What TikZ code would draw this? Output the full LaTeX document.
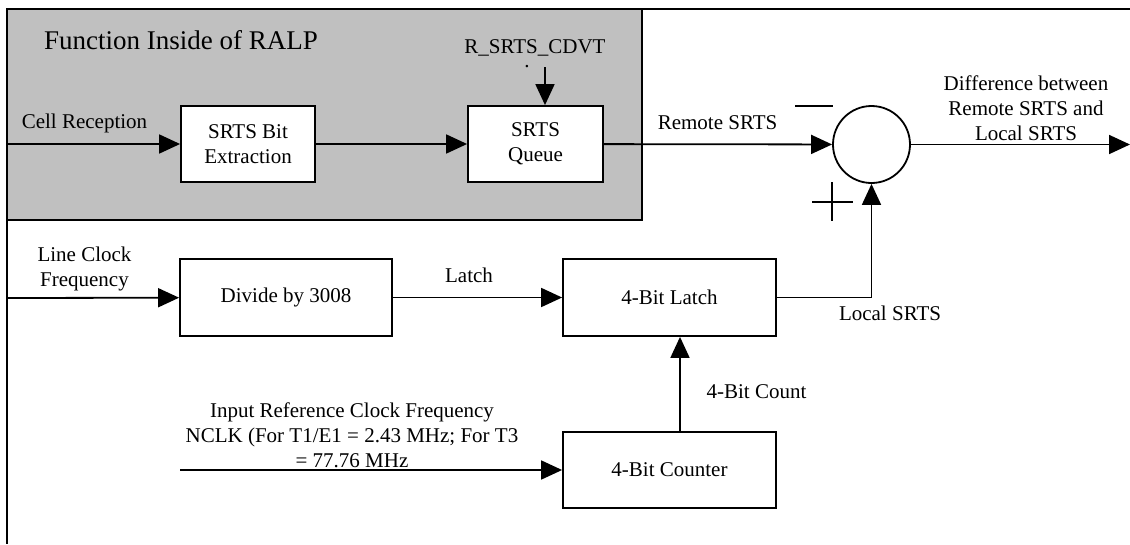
\documentclass[tikz,border=0pt]{standalone}
\usepackage{fontspec}
\setmainfont{Liberation Serif}
\usetikzlibrary{arrows.meta,positioning}
\definecolor{ralpgray}{RGB}{192,192,192}

\begin{document}
\begin{tikzpicture}[x=1pt, y=-1pt,
  box/.style={draw, line width=1.8pt, fill=white, align=center, inner sep=0pt,
              font=\fontsize{21}{25}\selectfont},
  lbl/.style={align=center, inner sep=0pt, font=\fontsize{21}{25}\selectfont},
  sumnode/.style={draw, circle, line width=1.8pt, minimum size=77pt, inner sep=0pt},
  arr/.style={-{Triangle[length=21pt,width=19pt]}, line width=1.8pt},
  sign/.style={line width=1.3pt}
]
  \useasboundingbox (0,0) rectangle (1130,544);
  \draw[line width=1.8pt, fill=ralpgray] (7,9) rectangle (642,220);
  \draw[line width=1.8pt] (1130,9) -- (7,9) -- (7,544);

  \node[lbl, font=\fontsize{27}{30}\selectfont] (title) at (181,40) {Function Inside of RALP};
  \node[box, minimum width=134pt, minimum height=76pt] (extract) at (248,144) {SRTS Bit\\Extraction};
  \node[box, minimum width=135pt, minimum height=76pt] (queue) at (535.5,144) {SRTS\\Queue};
  \node[sumnode] (sum) at (871.5,144.5) {};
  \node[box, minimum width=212pt, minimum height=77pt] (divide) at (286,297.5) {Divide by 3008};
  \node[box, minimum width=213pt, minimum height=77pt] (latch) at (669.5,297.5) {4-Bit Latch};
  \node[box, minimum width=213pt, minimum height=76pt] (counter) at (669.5,470) {4-Bit Counter};

  \node[lbl] (cellrx) at (84.5,123) {Cell Reception};
  \node[lbl, anchor=north] (cdvt) at (535,39) {R\_SRTS\_CDVT\\[-11pt]\hspace*{-16pt}.};
  \node[lbl] (remote) at (717.5,123) {Remote SRTS};
  \node[lbl] (diff) at (1026,108) {Difference between\\Remote SRTS and\\Local SRTS};
  \node[lbl] (lineclk) at (84.5,268.5) {Line Clock\\Frequency};
  \node[lbl] (latchlbl) at (469,275) {Latch};
  \node[lbl] (local) at (890,313) {Local SRTS};
  \node[lbl] (count) at (756.5,392) {4-Bit Count};
  \node[lbl] (refclk) at (352,435) {Input Reference Clock Frequency\\NCLK (For T1/E1 = 2.43 MHz; For T3\\= 77.76 MHz};

  \coordinate (cellin) at (7,144);
  \coordinate (cdvtin) at (545,67);
  \coordinate (lcin) at (7,298);
  \coordinate (refin) at (180,470);
  \coordinate (out) at (1130,144.5);

  \draw[arr] (cellin) -- (extract);
  \draw[arr] (extract) -- (queue);
  \draw[arr] (cdvtin) -- (cdvtin |- queue.north);
  \draw[arr] (queue) -- (sum);
  \draw[arr] (sum) -- (out);
  \draw[arr] (lcin) -- (divide);
  \draw[arr] (divide) -- (latch);
  \draw[arr] (refin) -- (counter);
  \draw[arr] ([xshift=10.5pt]counter.north) -- ([xshift=10.5pt]latch.south);
  \draw[arr] (latch.east) -| (sum.south);

  \draw[sign] (795,106) -- (833,106);
  \draw[sign] (812,202) -- (853,202);
  \draw[sign] (832,182) -- (832,221);
\end{tikzpicture}
\end{document}
